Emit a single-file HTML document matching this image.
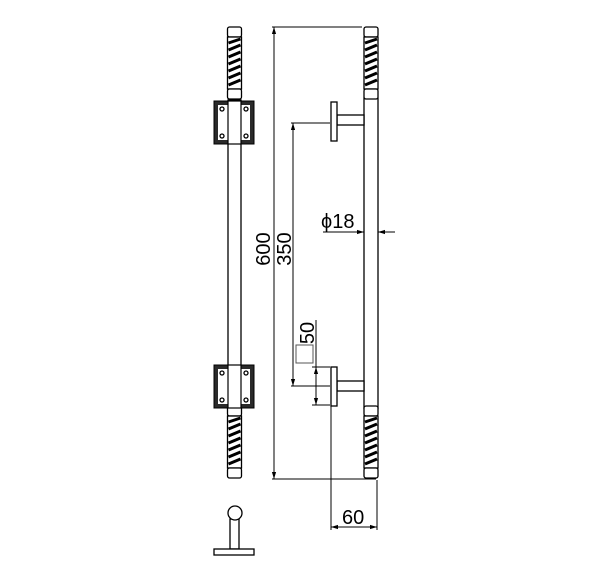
<!DOCTYPE html>
<html><head><style>body{margin:0;background:#fff}svg{display:block}</style></head><body>
<svg width="600" height="585" viewBox="0 0 600 585" xmlns="http://www.w3.org/2000/svg" font-family="Liberation Sans, sans-serif">
<defs>
<marker id="a" viewBox="0 0 10 10" refX="10" refY="5" markerWidth="7" markerHeight="7" orient="auto-start-reverse"><path d="M0,2 L10,5 L0,8z" fill="#000"/></marker>
<g id="tw">
<rect x="0" y="0" width="14" height="10" rx="2" fill="#fff" stroke="#000" stroke-width="1.3"/>
<rect x="0" y="10" width="14" height="52" fill="#fff" stroke="#000" stroke-width="1.3"/>
<g stroke="#000" stroke-width="3">
<line x1="1" y1="16" x2="13" y2="12"/><line x1="1" y1="23" x2="13" y2="18"/><line x1="1" y1="30" x2="13" y2="25"/><line x1="1" y1="37" x2="13" y2="32"/><line x1="1" y1="44" x2="13" y2="39"/><line x1="1" y1="51" x2="13" y2="46"/><line x1="1" y1="58" x2="13" y2="53"/>
</g>
<rect x="0" y="62" width="14" height="10" rx="2" fill="#fff" stroke="#000" stroke-width="1.3"/>
</g>
<g id="br">
<rect x="0" y="0" width="40" height="43" fill="#2a2a2a" stroke="#000"/>
<rect x="4" y="4" width="32" height="35" fill="#fff"/>
<rect x="14" y="0" width="13" height="43" fill="#fff" stroke="#000" stroke-width="1.2"/>
<g fill="#fff" stroke="#000" stroke-width="1.3"><circle cx="8" cy="8" r="2"/><circle cx="32" cy="8" r="2"/><circle cx="8" cy="35" r="2"/><circle cx="32" cy="35" r="2"/></g>
</g>
</defs>
<rect x="228" y="100" width="13" height="308" fill="none" stroke="#000" stroke-width="1.3"/>
<use href="#tw" x="227.5" y="27"/>
<use href="#tw" x="227.5" y="406"/>
<use href="#br" x="214" y="101"/>
<use href="#br" x="214" y="365"/>
<rect x="364" y="98" width="14" height="310" fill="#fff" stroke="#000" stroke-width="1.3"/>
<use href="#tw" x="364" y="27"/>
<use href="#tw" x="364" y="406"/>
<g fill="#fff" stroke="#000" stroke-width="1.3">
<rect x="337" y="115" width="27" height="10"/><rect x="331" y="102" width="6" height="39"/>
<rect x="337" y="381" width="27" height="10"/><rect x="331" y="367" width="6" height="39"/>
</g>
<g stroke="#000" stroke-width="1" fill="none">
<line x1="272" y1="27" x2="362" y2="27"/>
<line x1="272" y1="479" x2="376" y2="479"/>
<line x1="274" y1="27" x2="274" y2="479" marker-start="url(#a)" marker-end="url(#a)"/>
<line x1="291" y1="123" x2="330" y2="123"/>
<line x1="291" y1="386" x2="330" y2="386"/>
<line x1="293" y1="123" x2="293" y2="386" marker-start="url(#a)" marker-end="url(#a)"/>
<line x1="312" y1="367" x2="330" y2="367"/>
<line x1="312" y1="405" x2="330" y2="405"/>
<line x1="316" y1="320" x2="316" y2="367"/>
<line x1="316" y1="367" x2="316" y2="405" marker-start="url(#a)" marker-end="url(#a)"/>
<line x1="323" y1="232" x2="364" y2="232" marker-end="url(#a)"/>
<line x1="395" y1="232" x2="378" y2="232" marker-end="url(#a)"/>
<line x1="331" y1="406" x2="331" y2="530"/>
<line x1="377" y1="480" x2="377" y2="530"/>
<line x1="331" y1="527" x2="377" y2="527" marker-start="url(#a)" marker-end="url(#a)"/>
<rect x="296" y="345" width="17" height="18" stroke="#555"/>
</g>
<g font-size="20" fill="#000">
<text x="321" y="228">ϕ18</text>
<text x="342" y="524">60</text>
<text transform="translate(270,249) rotate(-90)" text-anchor="middle">600</text>
<text transform="translate(291,249) rotate(-90)" text-anchor="middle">350</text>
<text transform="translate(314,333) rotate(-90)" text-anchor="middle">50</text>
</g>
<g fill="#fff" stroke="#000" stroke-width="1.3">
<rect x="230" y="519" width="9" height="30"/>
<circle cx="235" cy="513" r="7"/>
<rect x="214" y="549" width="40" height="6"/>
</g>
</svg>
</body></html>
